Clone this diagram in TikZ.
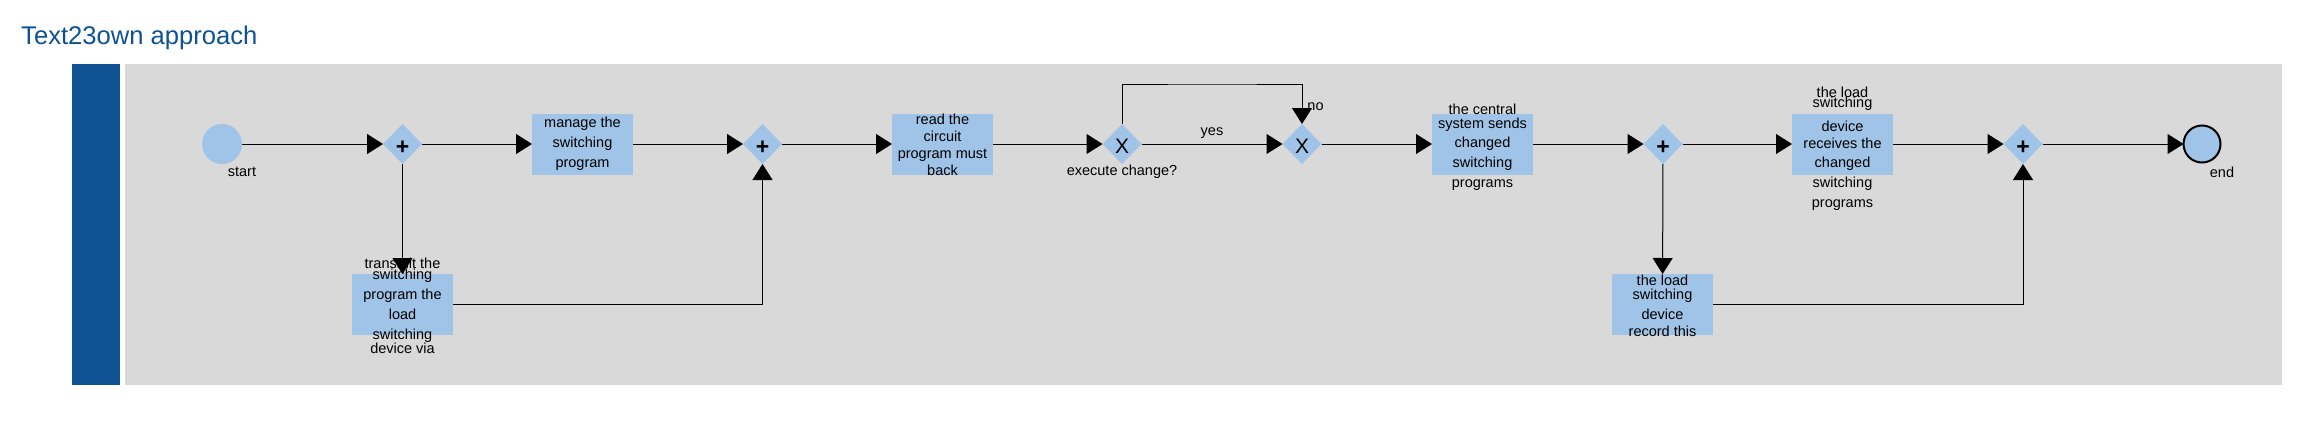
\documentclass[tikz,border=0pt]{standalone}
\usepackage{fontspec}
\setmainfont{Liberation Sans}
\usetikzlibrary{shapes.geometric,arrows.meta}
\definecolor{poolblue}{RGB}{14,82,148}
\definecolor{lanegray}{RGB}{217,217,217}
\definecolor{taskblue}{RGB}{160,196,232}
\tikzset{
  task/.style={rectangle,fill=taskblue,minimum width=101pt,minimum height=61pt,inner sep=0pt,outer sep=0pt},
  tasktext/.style={align=center,font=\fontsize{14.5}{20}\selectfont,inner sep=0pt},
  gate/.style={diamond,fill=taskblue,minimum width=39pt,minimum height=40pt,inner sep=0pt,outer sep=0pt,
    font=\fontsize{21}{21}\selectfont,text height=19.5pt,text depth=0pt},
  andgate/.style={gate,font=\fontsize{23}{23}\selectfont\bfseries,text height=20.5pt},
  lbl/.style={font=\fontsize{14.5}{16}\selectfont,inner sep=0pt},
  flow/.style={-{Triangle[length=16pt,width=20pt]},line width=1pt},
}
\begin{document}
\begin{tikzpicture}[x=1pt,y=-1pt]
\useasboundingbox (0,0) rectangle (2299,426);
\node[anchor=base west,inner sep=0pt,text=poolblue,font=\fontsize{25.6}{30}\selectfont] (title) at (21,44) {Text23own approach};
\fill[poolblue] (72,64) rectangle (120,385);
\fill[lanegray] (125,64) rectangle (2282,385);
% events
\node[circle,fill=taskblue,minimum size=40pt,inner sep=0pt,outer sep=0pt] (start) at (222,144) {};
\node[lbl] (startlbl) at (242,172) {start};
\node[circle,draw,line width=2pt,fill=taskblue,minimum size=37pt,inner sep=0pt,outer sep=0pt] (end) at (2202,144) {};
\node[lbl] (endlbl) at (2222,172) {end};
% gateways
\node[andgate] (g1) at (402.5,144) {+};
\node[andgate] (g2) at (762.5,144) {+};
\node[gate] (g3) at (1122,144) {X};
\node[lbl] (g3lbl) at (1122,172) {execute change?};
\node[gate] (g4) at (1302,144) {X};
\node[lbl] (nolbl) at (1315.5,107) {no};
\node[andgate] (g5) at (1663,144) {+};
\node[andgate] (g6) at (2023,144) {+};
% tasks
\node[task] (t1) at (582.5,144) {};
\node[tasktext] (t1text) at (t1) {manage the\\switching\\program};
\node[task] (t2) at (402.5,304.5) {};
\node[tasktext,yshift=-1pt] (t2text) at (t2) {transmit the\\[-9pt]switching\\program the\\load\\switching\\[-6pt]device via};
\node[task] (t3) at (942.5,144) {};
\node[tasktext,yshift=-1pt] (t3text) at (t3) {read the\\[-3pt]circuit\\[-3pt]program must\\[-3pt]back};
\node[task] (t4) at (1482.5,144) {};
\node[tasktext,yshift=-3pt] (t4text) at (t4) {the central\\[-6pt]system sends\\[-1pt]changed\\switching\\programs};
\node[task] (t5) at (1842.5,144) {};
\node[tasktext,yshift=-4.5pt] (t5text) at (t5) {the load\\[-10pt]switching\\[4pt]device\\[-3pt]receives the\\[-1pt]changed\\switching\\programs};
\node[task] (t6) at (1662.5,304.5) {};
\node[tasktext,yshift=-1pt] (t6text) at (t6) {the load\\[-6pt]switching\\device\\[-3pt]record this};
% sequence flows
\draw[flow] (start) -- (g1);
\draw[flow] (g1) -- (t1);
\draw[flow] (t1) -- (g2);
\draw[flow] (g1) -- (t2);
\draw[flow] (t2) -| (g2);
\draw[flow] (g2) -- (t3);
\draw[flow] (t3) -- (g3);
\draw[flow] (g3) -- (g4) node[lbl,midway,yshift=11pt] (yeslbl) {yes};
\coordinate (loop) at (1212,84);
\draw[flow] (g3) |- (loop) -| (g4);
\draw[flow] (g4) -- (t4);
\draw[flow] (t4) -- (g5);
\draw[flow] (g5) -- (t5);
\draw[flow] (g5) -- (t6);
\draw[flow] (t5) -- (g6);
\draw[flow] (t6) -| (g6);
\draw[flow] (g6) -- (end);
\end{tikzpicture}
\end{document}
